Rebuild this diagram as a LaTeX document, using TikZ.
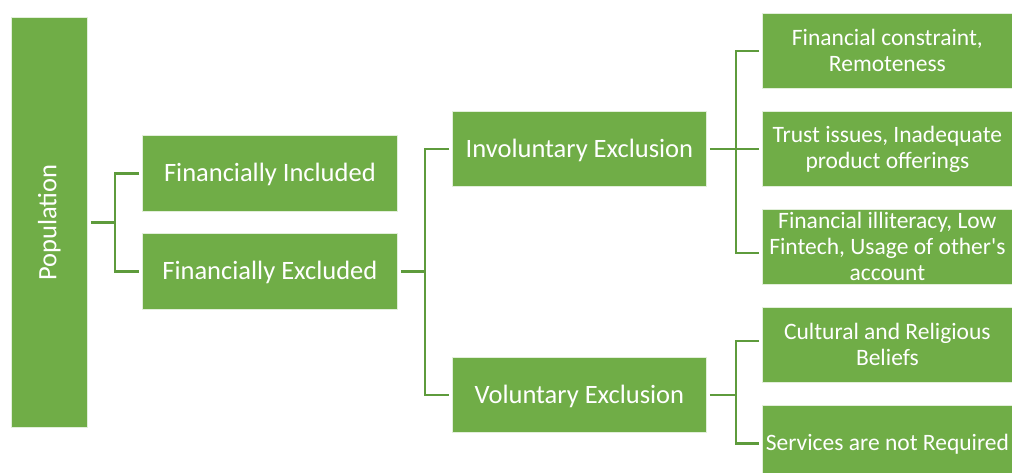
\documentclass[tikz,border=0pt]{standalone}
\usepackage{fontspec}
\setmainfont{Carlito}[Ligatures=TeXOff]
\definecolor{boxgreen}{HTML}{70AD47}
\definecolor{linegreen}{HTML}{5E9B3C}
\newcommand{\lowr}[2]{\raisebox{-#1}[\height][\depth]{#2}}
\begin{document}
\begin{tikzpicture}[x=1pt,y=-1pt,
  box/.style={fill=boxgreen, draw=white!80!boxgreen, line width=0.8pt, inner sep=1pt,
    text=white, align=center, anchor=north west},
  bigtxt/.style={font=\fontsize{26.5}{30}\selectfont},
  smalltxt/.style={font=\fontsize{23.5}{26}\selectfont},
  conn/.style={draw=linegreen, line width=2.6pt}]
\useasboundingbox (0,0) rectangle (1012,473);
% level 0
\node[box, bigtxt, minimum width=76pt, minimum height=410pt] (pop) at (11,17) {\rotatebox{90}{Population}};
% level 1
\node[box, bigtxt, minimum width=255pt, minimum height=76pt] (fi) at (142,135) {\lowr{1.5pt}{Financially Included}};
\node[box, bigtxt, minimum width=255pt, minimum height=76pt] (fe) at (142,233) {\lowr{1.5pt}{Financially Excluded}};
% level 2
\node[box, bigtxt, minimum width=254pt, minimum height=75pt] (ie) at (452,111) {\lowr{1.5pt}{Involuntary Exclusion}};
\node[box, bigtxt, minimum width=254pt, minimum height=75pt] (ve) at (452,357) {\lowr{1.5pt}{Voluntary Exclusion}};
% level 3
\node[box, smalltxt, minimum width=250pt, minimum height=75pt] (r1) at (762,13) {Financial constraint,\\Remoteness};
\node[box, smalltxt, minimum width=250pt, minimum height=75pt] (r2) at (762,111) {Trust issues, Inadequate\\product offerings};
\node[box, smalltxt, minimum width=250pt, minimum height=75pt] (r3) at (762,209) {Financial illiteracy, Low\\Fintech, Usage of other's\\account};
\node[box, smalltxt, minimum width=250pt, minimum height=75pt] (r4) at (762,307) {Cultural and Religious\\Beliefs};
\node[box, smalltxt, minimum width=250pt, minimum height=68pt] (r5) at (762,405) {\lowr{5pt}{Services are not Required}};
% connectors
\coordinate (j0) at ([xshift=27pt]pop.east);
\draw[conn] ([xshift=3pt]pop.east) -- (j0);
\draw[conn] ([xshift=-3pt]fi.west) -| (j0) |- ([xshift=-3pt]fe.west);
\coordinate (j1) at ([xshift=27pt]fe.east);
\draw[conn] ([xshift=3pt]fe.east) -- (j1);
\draw[conn] ([xshift=-3pt]ie.west) -| (j1) |- ([xshift=-3pt]ve.west);
\coordinate (j2) at ([xshift=29pt]ie.east);
\draw[conn] ([xshift=3pt]ie.east) -- ([xshift=-3pt]r2.west);
\draw[conn] ([xshift=-3pt]r1.west) -| (j2) |- ([xshift=-3pt,yshift=-6pt]r3.west);
\coordinate (j3) at ([xshift=29pt]ve.east);
\draw[conn] ([xshift=3pt]ve.east) -- (j3);
\draw[conn] ([xshift=-3pt,yshift=4pt]r4.west) -| (j3) |- ([xshift=-3pt,yshift=-4pt]r5.west);
\end{tikzpicture}
\end{document}
